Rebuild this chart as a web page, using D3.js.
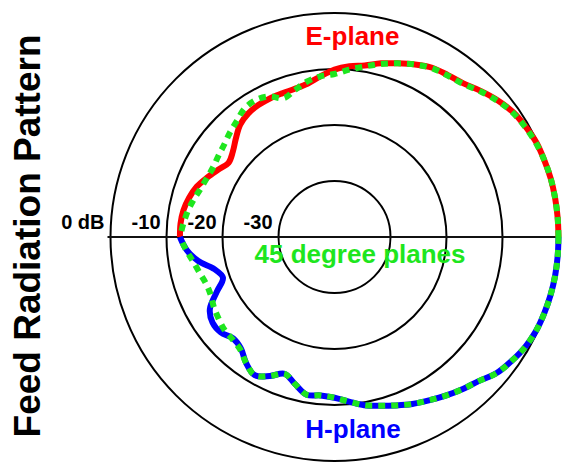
<!DOCTYPE html>
<html>
<head>
<meta charset="utf-8">
<script src="https://cdn.jsdelivr.net/npm/d3@7"></script>
<style>
  body { margin: 0; background: #fff; }
  text { font-family: "Liberation Sans", Arial, sans-serif; font-weight: bold; }
</style>
</head>
<body>
<svg width="563" height="464"></svg>
<script>

// Angles off boresight (deg), 0 = right, 180 = back of the feed
var angles = [0, 5, 10, 15, 20, 25, 30, 35, 40, 45, 50, 55, 60, 65, 70, 75, 80, 85, 90,
    95, 100, 105, 110, 115, 120, 125, 130, 135, 140, 145, 150, 155, 160, 165, 170, 175, 180];

// Relative level (dB), upper half
var ePlane = [0, 0, 0, 0, -0.1, -0.2, -0.6, -1.1, -2.0, -3.1, -4.2, -4.7, -5.1, -6.0, -7.0, -7.9, -8.9, -9.4, -10.1,
    -11.2, -12.2, -12.6, -12.7, -12.7, -12.8, -13.1, -13.8, -15.1, -16.3, -16.9, -16.0, -14.9, -13.8, -13.1, -12.6, -12.4, -12.4];
var diagUpper = [0, 0, 0, 0, -0.1, -0.3, -0.7, -1.2, -2.1, -3.2, -4.3, -4.8, -5.2, -6.0, -7.0, -8.0, -9.1, -10.0, -10.9,
    -11.2, -11.8, -12.8, -13.6, -12.3, -11.8, -12.0, -12.9, -13.6, -14.3, -14.7, -15.0, -14.9, -14.6, -14.0, -13.4, -12.9, -12.4];

// Relative level (dB), lower half
var hPlane = [0, 0, 0, -0.05, -0.15, -0.3, -0.7, -1.4, -2.2, -3.6, -4.5, -5.4, -6.3, -7.1, -8.0, -8.8, -9.5, -10.5, -11.3,
    -11.6, -11.4, -12.8, -14.0, -12.6, -11.5, -12.5, -14.0, -14.4, -13.5, -13.4, -14.3, -16.8, -18.8, -17.8, -15.3, -13.5, -12.4];
var diagLower = [0, 0, 0, -0.05, -0.15, -0.3, -0.7, -1.4, -2.2, -3.6, -4.5, -5.4, -6.3, -7.1, -8.0, -8.8, -9.5, -10.5, -11.3,
    -11.6, -11.4, -12.8, -14.0, -12.6, -11.5, -12.5, -13.8, -14.2, -14.3, -14.7, -15.1, -15.6, -15.6, -15.1, -14.4, -13.4, -12.4];

var ringLevels = [0, -10, -20, -30];
var ringLabels = ["0 dB", "-10", "-20", "-30"];

var svg = d3.select("svg"),
    cx = 334.5,
    cy = 237,
    R = 224;

var r = d3.scaleLinear().domain([-40, 0]).range([0, R]);

var g = svg.append("g").attr("transform", "translate(" + cx + "," + cy + ")");

// rings
g.selectAll("circle.ring")
    .data(ringLevels)
    .enter().append("circle")
    .attr("class", "ring")
    .attr("r", function (d) { return r(d); })
    .attr("fill", "none")
    .attr("stroke", "#000")
    .attr("stroke-width", 2);

g.append("line")
    .attr("x1", -R - 3).attr("x2", R + 1)
    .attr("y1", 0).attr("y2", 0)
    .attr("stroke", "#111")
    .attr("stroke-width", 2);

g.selectAll("text.ring")
    .data(ringLevels)
    .enter().append("text")
    .attr("class", "ring")
    .attr("x", function (d) { return -r(d) - 6; })
    .attr("y", -8)
    .attr("text-anchor", "end")
    .attr("font-size", 20)
    .attr("fill", "#000")
    .text(function (d, i) { return ringLabels[i]; });

// upper half goes counter-clockwise from the right, lower half clockwise
function curve(vals, upper) {
    var pts = angles.map(function (a, i) { return [a, vals[i]]; });
    return d3.lineRadial()
        .angle(function (d) {
            var t = d[0] * Math.PI / 180;
            return upper ? Math.PI / 2 - t : Math.PI / 2 + t;
        })
        .radius(function (d) { return r(d[1]); })
        .curve(d3.curveCatmullRom)(pts);
}

var series = [
    { vals: ePlane, upper: true, color: "#ff0000", dash: null },
    { vals: hPlane, upper: false, color: "#0000ff", dash: null },
    { vals: diagUpper, upper: true, color: "#1ee61e", dash: "7,6" },
    { vals: diagLower, upper: false, color: "#1ee61e", dash: "7,6" }
];

g.selectAll("path.pattern")
    .data(series)
    .enter().append("path")
    .attr("class", "pattern")
    .attr("d", function (d) { return curve(d.vals, d.upper); })
    .attr("fill", "none")
    .attr("stroke", function (d) { return d.color; })
    .attr("stroke-width", 6)
    .attr("stroke-dasharray", function (d) { return d.dash; });

// labels
svg.append("text")
    .attr("x", 352.5).attr("y", 45)
    .attr("text-anchor", "middle")
    .attr("font-size", 26)
    .attr("fill", "#ff0000")
    .text("E-plane");

svg.append("text")
    .attr("x", 353).attr("y", 438)
    .attr("text-anchor", "middle")
    .attr("font-size", 26)
    .attr("fill", "#0000ff")
    .text("H-plane");

svg.append("text")
    .attr("x", 360).attr("y", 263)
    .attr("text-anchor", "middle")
    .attr("font-size", 26)
    .attr("fill", "#1ee61e")
    .text("45 degree planes");

svg.append("text")
    .attr("transform", "translate(40,236) rotate(-90)")
    .attr("text-anchor", "middle")
    .attr("font-size", 37)
    .attr("fill", "#000")
    .text("Feed Radiation Pattern");
</script>
</body>
</html>
